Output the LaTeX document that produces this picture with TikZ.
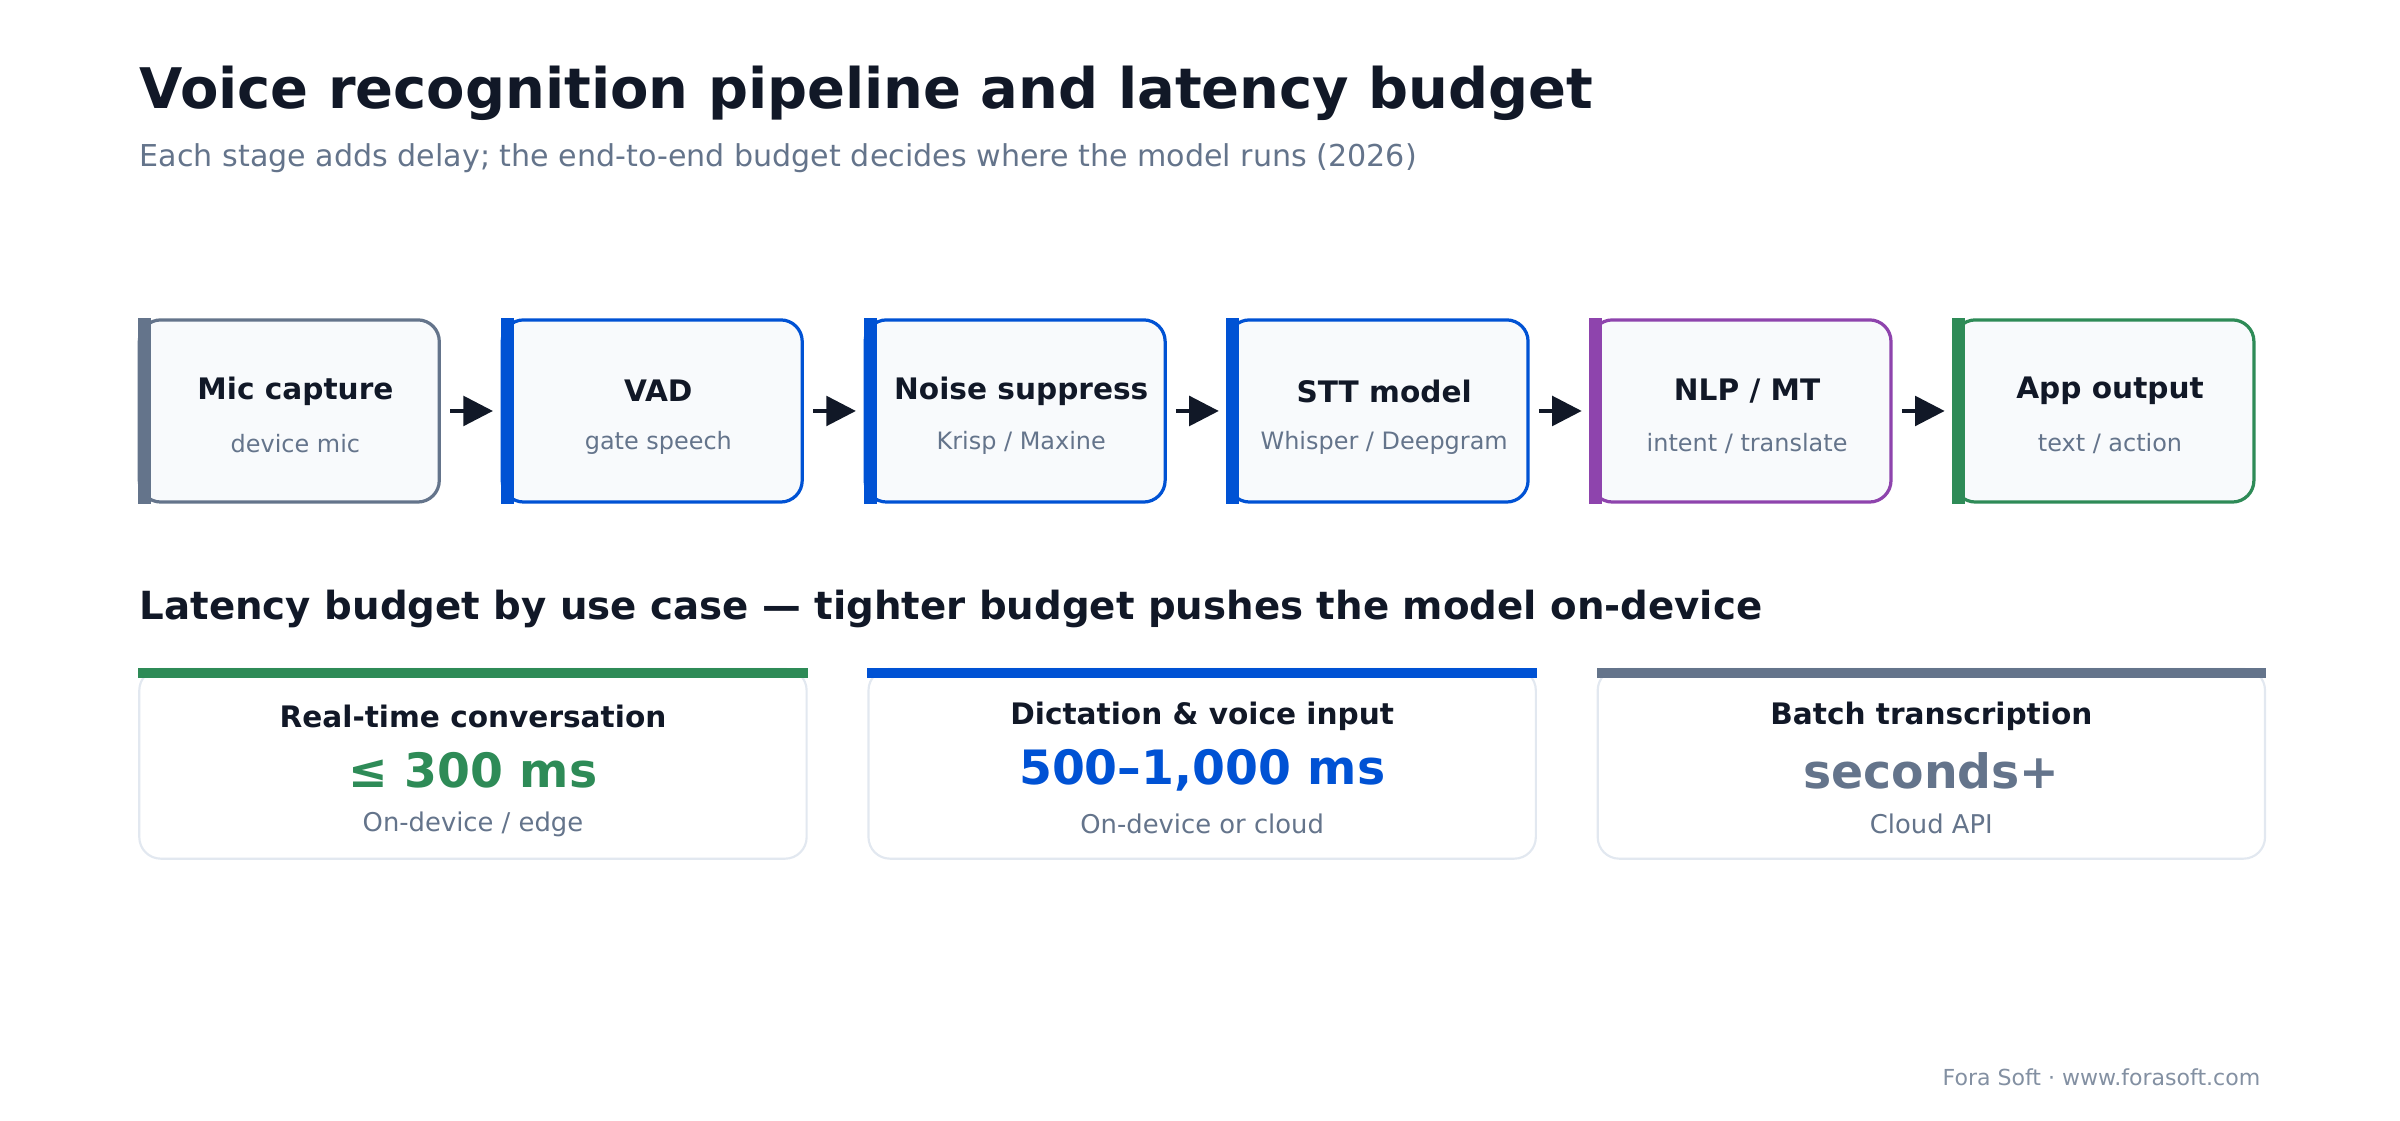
\documentclass[tikz,border=0pt]{standalone}
\usepackage{fontspec}
\setmainfont{DejaVu Sans}
\usetikzlibrary{positioning}
\usetikzlibrary{arrows.meta}
\definecolor{ink}{HTML}{111827}
\definecolor{slate}{HTML}{64748B}
\definecolor{vblue}{HTML}{0052D4}
\definecolor{vpurple}{HTML}{8E44AD}
\definecolor{vgreen}{HTML}{2E8B57}
\definecolor{paper}{HTML}{F8FAFC}
\definecolor{rim}{HTML}{E2E8F0}
\tikzset{
  stage/.style={draw=#1,line width=1.2pt,fill=paper,rounded corners=8pt,minimum width=3.92cm,minimum height=2.38cm,inner sep=0pt},
  card/.style={draw=rim,line width=0.8pt,fill=white,rounded corners=8pt,minimum width=8.72cm,minimum height=2.48cm,inner sep=0pt},
  flow/.style={ink,line width=1.4pt,-{Triangle[length=11pt,width=11pt]}}
}
\begin{document}
\begin{tikzpicture}[node distance=0.78cm]
\useasboundingbox (0,0) rectangle (31.36,-14.64);
\node[anchor=base west,inner sep=0pt,ink,font=\bfseries\fontsize{20.8}{24}\selectfont] (title) at (1.82,-1.42) {Voice recognition pipeline and latency budget};
\node[anchor=base west,inner sep=0pt,slate,font=\fontsize{11.2}{13}\selectfont] (sub) at (1.82,-2.18) {Each stage adds delay; the end-to-end budget decides where the model runs (2026)};
% pipeline
\node[stage=slate] (mic) at (3.78,-5.37) {};
\node[stage=vblue,right=of mic] (vad) {};
\node[stage=vblue,right=of vad] (noise) {};
\node[stage=vblue,right=of noise] (stt) {};
\node[stage=vpurple,right=of stt] (nlp) {};
\node[stage=vgreen,right=of nlp] (app) {};
\foreach \n/\c/\a/\b in {mic/slate/{Mic capture}/{device mic},vad/vblue/{VAD}/{gate speech},noise/vblue/{Noise suppress}/{Krisp / Maxine},stt/vblue/{STT model}/{Whisper / Deepgram},nlp/vpurple/{NLP / MT}/{intent / translate},app/vgreen/{App output}/{text / action}}{
  \fill[\c] (\n.north west) rectangle ([xshift=0.17cm]\n.south west);
  \node[ink,font=\bfseries\fontsize{11}{13}\selectfont] (\n-t) at ([xshift=0.08cm,yshift=0.26cm]\n.center) {\a};
  \node[slate,font=\fontsize{8.9}{10}\selectfont] (\n-s) at ([xshift=0.08cm,yshift=-0.42cm]\n.center) {\b};
}
\foreach \a/\b in {mic/vad,vad/noise,noise/stt,stt/nlp,nlp/app}
  \draw[flow] ([xshift=0.12cm]\a.east) -- ([xshift=-0.1cm]\b.west);
% budgets
\node[anchor=base west,inner sep=0pt,ink,font=\bfseries\fontsize{14.4}{16}\selectfont] (head) at (1.82,-8.1) {Latency budget by use case — tighter budget pushes the model on-device};
\node[card] (rt) at (6.18,-9.98) {};
\node[card,right=0.78cm of rt] (dict) {};
\node[card,right=0.78cm of dict] (batch) {};
\foreach \n/\c/\a/\v/\b in {rt/vgreen/{Real-time conversation}/{≤ 300 ms}/{On-device / edge},dict/vblue/{Dictation \& voice input}/{500–1,000 ms}/{On-device or cloud},batch/slate/{Batch transcription}/{seconds+}/{Cloud API}}{
  \fill[\c] (\n.north west) rectangle ([yshift=-0.13cm]\n.north east);
  \node[ink,font=\bfseries\fontsize{11}{13}\selectfont] (\n-t) at ([yshift=-0.64cm]\n.north) {\a};
  \node[\c,font=\bfseries\fontsize{17.6}{20}\selectfont] (\n-v) at ([yshift=-1.34cm]\n.north) {\v};
  \node[slate,font=\fontsize{9.6}{11}\selectfont] (\n-s) at ([yshift=-2.04cm]\n.north) {\b};
}
\node[anchor=base east,inner sep=0pt,slate!80,font=\fontsize{8.2}{10}\selectfont] (foot) at (29.54,-14.18) {Fora Soft · www.forasoft.com};
\end{tikzpicture}
\end{document}
